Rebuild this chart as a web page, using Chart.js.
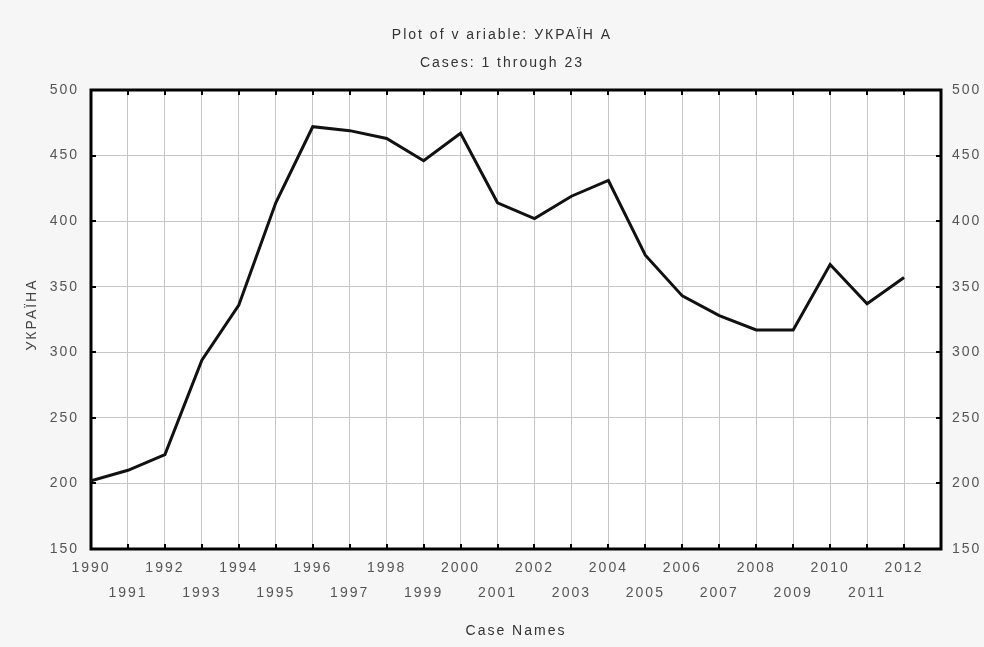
<!DOCTYPE html>
<html>
<head>
<meta charset="utf-8">
<title>УКРАЇНА</title>
<script src="https://cdn.jsdelivr.net/npm/chart.js@4/dist/chart.umd.min.js"></script>
<style>
  html, body { margin: 0; padding: 0; background: #f6f6f6; }
  #wrap { width: 984px; height: 647px; }
</style>
</head>
<body>
<div id="wrap"><canvas id="chart" width="984" height="647"></canvas></div>
<script>
// Yearly values of the variable УКРАЇНА, cases 1..23
const years = [1990, 1991, 1992, 1993, 1994, 1995, 1996, 1997, 1998, 1999, 2000, 2001,
               2002, 2003, 2004, 2005, 2006, 2007, 2008, 2009, 2010, 2011, 2012];
const values = [202, 210, 222, 294, 336, 414, 472, 469, 463, 446, 467, 414,
                402, 419, 431, 374, 343, 328, 317, 317, 367, 337, 357];
const yTicks = [150, 200, 250, 300, 350, 400, 450, 500];

const titleText = 'Plot of v ariable: УКРАЇН А';
const subtitleText = 'Cases: 1 through 23';
const xTitle = 'Case Names';
const yTitle = 'УКРАЇНА';

const FONT = '"Liberation Sans", Arial, sans-serif';
const SPACING = '2px';

// wide tracking for every text drawn on the canvas
const tracking = {
  id: 'tracking',
  beforeInit(chart) { chart.ctx.letterSpacing = SPACING; },
  beforeLayout(chart) { chart.ctx.letterSpacing = SPACING; },
  beforeDraw(chart) { chart.ctx.letterSpacing = SPACING; }
};

// page background and white plotting field
const panel = {
  id: 'panel',
  beforeDraw(chart) {
    const { ctx, chartArea: a } = chart;
    ctx.save();
    ctx.fillStyle = '#f6f6f6';
    ctx.fillRect(0, 0, chart.width, chart.height);
    ctx.fillStyle = '#ffffff';
    ctx.fillRect(a.left, a.top, a.right - a.left, a.bottom - a.top);
    ctx.restore();
  }
};

// heavy frame with short inward tick marks
const frame = {
  id: 'frame',
  beforeDatasetsDraw(chart) {
    const { ctx, chartArea: a, scales } = chart;
    ctx.save();
    ctx.strokeStyle = '#000';
    ctx.lineWidth = 2;
    ctx.beginPath();
    scales.x.ticks.forEach(t => {
      const px = Math.round(scales.x.getPixelForValue(t.value));
      ctx.moveTo(px, a.top); ctx.lineTo(px, a.top + 5);
      ctx.moveTo(px, a.bottom); ctx.lineTo(px, a.bottom - 5);
    });
    scales.y.ticks.forEach(t => {
      const py = Math.round(scales.y.getPixelForValue(t.value));
      ctx.moveTo(a.left, py); ctx.lineTo(a.left + 5, py);
      ctx.moveTo(a.right, py); ctx.lineTo(a.right - 5, py);
    });
    ctx.stroke();
    ctx.lineWidth = 3;
    ctx.strokeRect(a.left, a.top, a.right - a.left, a.bottom - a.top);
    ctx.restore();
  }
};

// rotated caption of the value axis, placed a little above the axis middle
const yCaption = {
  id: 'yCaption',
  afterDraw(chart) {
    const { ctx, chartArea: a } = chart;
    ctx.save();
    ctx.letterSpacing = SPACING;
    ctx.font = '14px ' + FONT;
    ctx.fillStyle = '#444';
    ctx.textAlign = 'center';
    ctx.textBaseline = 'middle';
    ctx.translate(32, (a.top + a.bottom) / 2 - 5);
    ctx.rotate(-Math.PI / 2);
    ctx.fillText(yTitle, 0, 0);
    ctx.restore();
  }
};

const tickFont = { family: FONT, size: 14 };

new Chart(document.getElementById('chart'), {
  type: 'line',
  data: {
    datasets: [{
      data: years.map((yr, i) => ({ x: yr, y: values[i] })),
      borderColor: '#111',
      borderWidth: 3,
      pointRadius: 0,
      tension: 0,
      fill: false,
      yAxisID: 'y'
    }]
  },
  options: {
    responsive: false,
    animation: false,
    events: [],
    layout: { padding: { left: 20, right: 0, top: 0, bottom: 0 } },
    plugins: {
      legend: { display: false },
      tooltip: { enabled: false },
      title: {
        display: true,
        text: titleText,
        color: '#333',
        font: { family: FONT, size: 14, weight: 'normal' },
        padding: { top: 27, bottom: 0 }
      },
      subtitle: {
        display: true,
        text: subtitleText,
        color: '#333',
        font: { family: FONT, size: 14, weight: 'normal' },
        padding: { top: 11, bottom: 18.4 }
      }
    },
    scales: {
      x: {
        type: 'linear',
        min: 1990,
        max: 2013,
        border: { display: false },
        grid: { color: '#c6c6c6', lineWidth: 1, drawTicks: false },
        ticks: {
          stepSize: 1,
          maxTicksLimit: 100,
          autoSkip: false,
          maxRotation: 0,
          minRotation: 0,
          padding: 6.5,
          color: '#555',
          font: { family: FONT, size: 14, lineHeight: 25 / 14 },
          callback: v => v > years[years.length - 1] ? '' :
            (v % 2 === 0 ? [String(v), ''] : ['', String(v)])
        },
        title: {
          display: true,
          text: xTitle,
          color: '#333',
          font: { family: FONT, size: 14 },
          padding: { top: 0, bottom: 7.6 }
        },
        afterFit(scale) { scale.height = 98; }
      },
      y: {
        position: 'left',
        min: 150,
        max: 500,
        border: { display: false },
        grid: { color: '#c6c6c6', lineWidth: 1, drawTicks: false },
        ticks: {
          stepSize: 50,
          padding: 12,
          color: '#555',
          font: tickFont
        },
        afterBuildTicks(scale) { scale.ticks = yTicks.map(v => ({ value: v })); },
        afterFit(scale) { scale.width = 71; }
      },
      y2: {
        position: 'right',
        min: 150,
        max: 500,
        border: { display: false },
        grid: { display: false, drawTicks: false },
        ticks: {
          stepSize: 50,
          padding: 11,
          color: '#555',
          font: tickFont
        },
        afterBuildTicks(scale) { scale.ticks = yTicks.map(v => ({ value: v })); },
        afterFit(scale) { scale.width = 43; }
      }
    }
  },
  plugins: [tracking, panel, frame, yCaption]
});
</script>
</body>
</html>
